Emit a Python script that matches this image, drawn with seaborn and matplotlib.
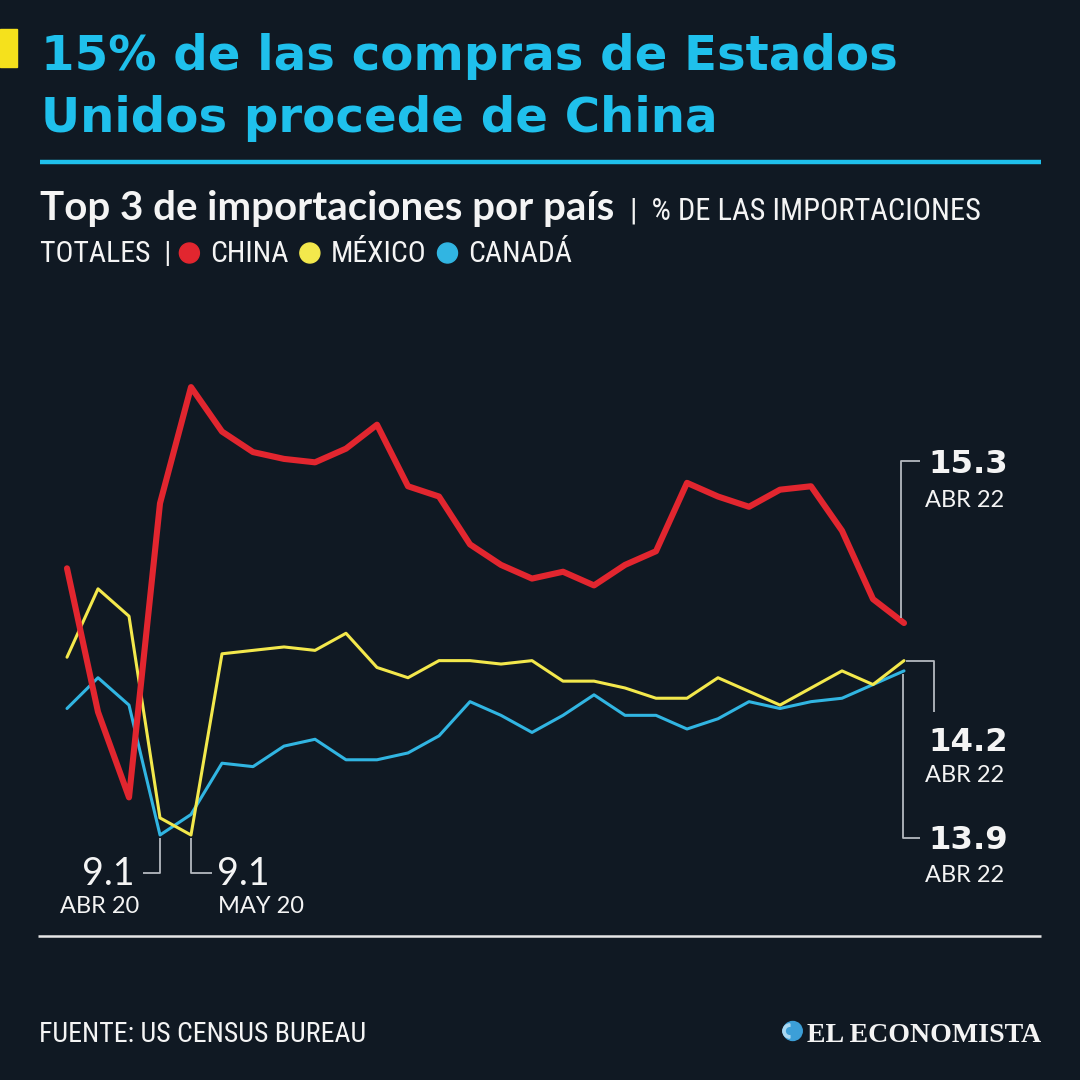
import numpy as np
import pandas as pd
import matplotlib
matplotlib.use("Agg")
import matplotlib.pyplot as plt
import seaborn as sns
from matplotlib import font_manager
from matplotlib.patches import Circle, Rectangle, Wedge
from matplotlib.lines import Line2D

# ---------------- data ----------------
meses = ["ENE 20", "FEB 20", "MAR 20", "ABR 20", "MAY 20", "JUN 20", "JUL 20",
         "AGO 20", "SEP 20", "OCT 20", "NOV 20", "DIC 20", "ENE 21", "FEB 21",
         "MAR 21", "ABR 21", "MAY 21", "JUN 21", "JUL 21", "AGO 21", "SEP 21",
         "OCT 21", "NOV 21", "DIC 21", "ENE 22", "FEB 22", "MAR 22", "ABR 22"]
china = [16.9, 12.7, 10.2, 18.8, 22.2, 20.9, 20.3, 20.1, 20.0, 20.4, 21.1, 19.3,
         19.0, 17.6, 17.0, 16.6, 16.8, 16.4, 17.0, 17.4, 19.4, 19.0, 18.7, 19.2,
         19.3, 18.0, 16.0, 15.3]
mexico = [14.3, 16.3, 15.5, 9.6, 9.1, 14.4, 14.5, 14.6, 14.5, 15.0, 14.0, 13.7,
          14.2, 14.2, 14.1, 14.2, 13.6, 13.6, 13.4, 13.1, 13.1, 13.7, 13.3, 12.9,
          13.4, 13.9, 13.5, 14.2]
canada = [12.8, 13.7, 12.9, 9.1, 9.7, 11.2, 11.1, 11.7, 11.9, 11.3, 11.3, 11.5,
          12.0, 13.0, 12.6, 12.1, 12.6, 13.2, 12.6, 12.6, 12.2, 12.5, 13.0, 12.8,
          13.0, 13.1, 13.5, 13.9]
paises = ["Canadá", "México", "China"]
leyenda = ["CHINA", "MÉXICO", "CANADÁ"]

# ---------------- style ----------------
BG = "#101923"
CYAN = "#1fc0ec"
RED = "#e2262f"
YELLOW = "#f3e84c"
BLUE = "#31b5e2"
GRAY = "#b4b9c0"
WHITE = "#f4f4f4"
colores = {"China": RED, "México": YELLOW, "Canadá": BLUE}
grosor = {"China": 4.4, "México": 2.2, "Canadá": 2.2}

sns.set_theme(style="dark", rc={"axes.facecolor": BG, "figure.facecolor": BG,
                                 "savefig.facecolor": BG})

avail = {f.name for f in font_manager.fontManager.ttflist}
def pick(cands):
    for c in cands:
        if c in avail:
            return c
    return "DejaVu Sans"
SANS = pick(["Lato", "Open Sans", "Roboto", "DejaVu Sans"])
COND = pick(["Liberation Sans Narrow", "Roboto Condensed", "Lato"])
SERIF = pick(["Liberation Serif", "DejaVu Serif"])
plt.rcParams["font.family"] = [SANS, "DejaVu Sans"]

W = H = 1080
fig = plt.figure(figsize=(10.8, 10.8), dpi=100)
ax = fig.add_axes([0, 0, 1, 1])

# pixel layout of the plotting region
X0, DX = 67.0, 31.0
YREF, VREF, K = 835.0, 9.1, 34.19
def X(px):
    return (px - X0) / DX
def Y(py):
    return VREF + (YREF - py) / K

df = pd.DataFrame({
    "mes": np.tile(np.arange(len(meses)), 3),
    "pais": np.repeat(["China", "México", "Canadá"], len(meses)),
    "valor": china + mexico + canada,
})

sns.lineplot(data=df, x="mes", y="valor", hue="pais", hue_order=paises,
             size="pais", size_order=paises, sizes=grosor, palette=colores,
             legend=False, ax=ax, solid_capstyle="round", solid_joinstyle="round",
             clip_on=False)
ax.set_xlim(X(0), X(W))
ax.set_ylim(Y(H), Y(0))
ax.axis("off")

renderer = fig.canvas.get_renderer()

def ftext(px, py, s, **kw):
    kw.setdefault("va", "baseline")
    return fig.text(px / W, 1 - py / H, s, **kw)

def width(t):
    return t.get_window_extent(renderer).width

def fit(t, target):
    fs = t.get_fontsize()
    t.set_fontsize(fs * target / width(t))
    return t.get_fontsize()

def hline_fig(x1, x2, py, color, lw):
    fig.add_artist(Line2D([x1 / W, x2 / W], [1 - py / H, 1 - py / H],
                          color=color, lw=lw, transform=fig.transFigure,
                          solid_capstyle="butt"))

COND_F = [COND, "DejaVu Sans"]

# ---------------- header ----------------
fig.add_artist(Rectangle((0, 1 - 67 / H), 17 / W, 38 / H, color="#f5e11c",
                         transform=fig.transFigure))
t1 = ftext(41, 70, "15% de las compras de Estados", fontsize=36,
           fontweight="bold", family="DejaVu Sans", color=CYAN)
fs = fit(t1, 858)
ftext(41, 132, "Unidos procede de China", fontsize=fs, fontweight="bold",
      family="DejaVu Sans", color=CYAN)
hline_fig(40, 1041, 162, CYAN, 3.2)

t = ftext(40, 220, "Top 3 de importaciones por país", fontsize=27,
          fontweight="bold", color=WHITE)
fit(t, 574)
t = ftext(630, 220, "|  % DE LAS IMPORTACIONES", fontsize=19, family=COND_F,
          color=WHITE)
fs = fit(t, 351)

t = ftext(40, 262, "TOTALES  |", fontsize=fs, family=COND_F, color=WHITE)
fit(t, 131)
fs2 = t.get_fontsize()
cx = 40 + width(t) + 8
for nombre, pais in zip(leyenda, ["China", "México", "Canadá"]):
    fig.add_artist(Circle(((cx + 10) / W, 1 - 253 / H), 10 / W,
                          color=colores[pais], transform=fig.transFigure))
    t = ftext(cx + 31, 262, nombre, fontsize=fs2, family=COND_F, color=WHITE)
    cx = cx + 31 + width(t) + 11

# ---------------- annotations ----------------
lead = dict(color=GRAY, lw=1.3, clip_on=False, solid_capstyle="butt")
n = len(meses) - 1
ax.plot([n - 0.1, n - 0.1, X(920)], [china[-1] + 0.15, Y(461), Y(461)], **lead)
ax.plot([n + 0.05, X(934), X(934)], [mexico[-1], mexico[-1], Y(712)], **lead)
ax.plot([n - 0.03, n - 0.03, X(920)], [canada[-1] - 0.1, Y(838), Y(838)], **lead)
ic = int(np.argmin(canada))
im = int(np.argmin(mexico))
ax.plot([ic, ic, X(143)], [canada[ic] - 0.1, Y(873), Y(873)], **lead)
ax.plot([im, im, X(212)], [mexico[im] - 0.1, Y(873), Y(873)], **lead)

for val, ytop, ybot in [(china[-1], 473, 507), (mexico[-1], 751, 782),
                        (canada[-1], 849, 882)]:
    t = ftext(928, ytop, f"{val:.1f}", fontsize=28, fontweight="bold",
              family="DejaVu Sans", color=WHITE)
    fit(t, 80)
    ftext(925, ybot, meses[n], fontsize=17, color=WHITE)

ftext(135, 885, f"{canada[ic]:.1f}", fontsize=27, color=WHITE, ha="right")
ftext(139, 913, meses[ic], fontsize=17, color=WHITE, ha="right")
ftext(217, 885, f"{mexico[im]:.1f}", fontsize=27, color=WHITE, ha="left")
ftext(218, 913, meses[im], fontsize=17, color=WHITE, ha="left")

# ---------------- footer ----------------
hline_fig(38, 1041, 936, "#e6e6e6", 1.8)
t = ftext(39, 1042, "FUENTE: US CENSUS BUREAU", fontsize=18, family=COND_F,
          color=WHITE)
fit(t, 327)
t = ftext(1041, 1042, "EL ECONOMISTA", fontsize=22, family=[SERIF, "DejaVu Serif"],
          fontweight="bold", color=WHITE, ha="right")
lw_ = width(t)
if lw_ > 234:
    t.set_fontsize(22 * 234 / lw_)
logo_left = 1041 - width(t)
gx, gy, gr = (logo_left - 14) / W, 1 - 1031 / H, 9.5 / W
fig.add_artist(Circle((gx, gy), gr, color="#3c9fd8", transform=fig.transFigure))
fig.add_artist(Wedge((gx - 0.3 * gr, gy), 0.75 * gr, 90, 270, width=0.25 * gr,
                     color="#a9d8f2", transform=fig.transFigure))

fig.savefig("out.png", dpi=100, facecolor=BG)
